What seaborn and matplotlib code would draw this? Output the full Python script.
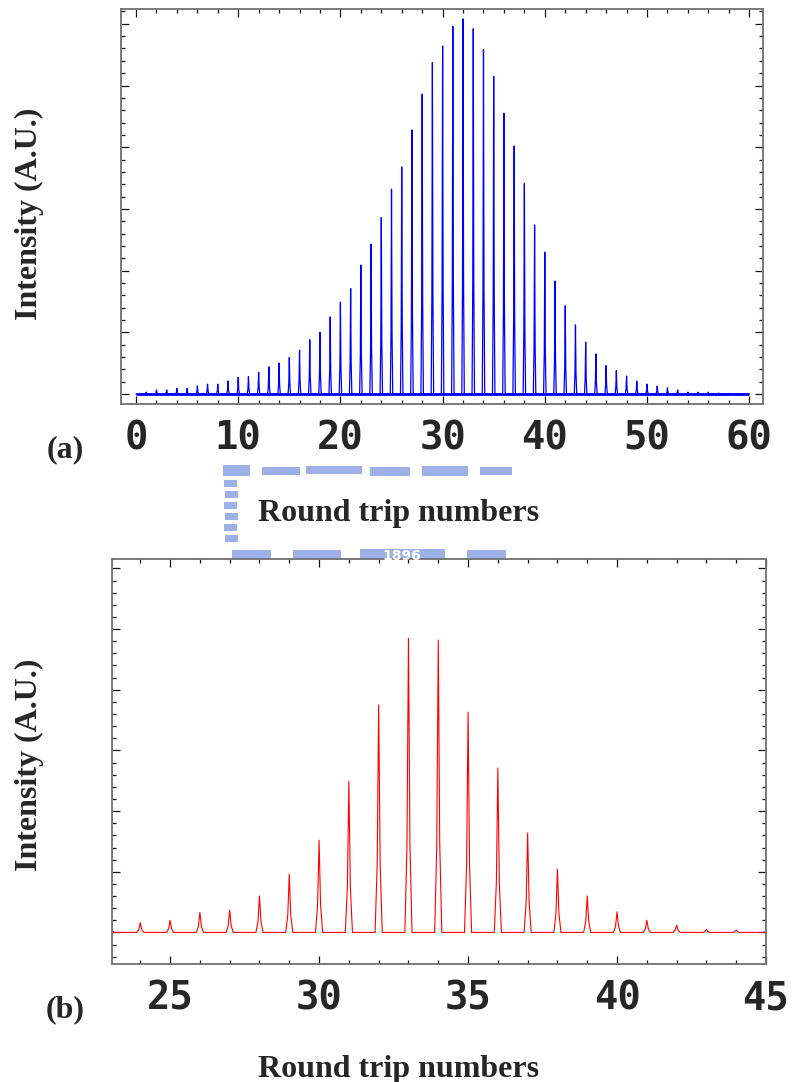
import numpy as np
import pandas as pd
import matplotlib
matplotlib.use("Agg")
import matplotlib.pyplot as plt
import seaborn as sns
from matplotlib.patches import Rectangle
from matplotlib.ticker import MultipleLocator

# ---------------------------------------------------------------- data
# (a) full build-up: peak intensity of each round trip (major tick = 1 unit)
a_trips = list(range(1, 59))
a_peaks = [0.03, 0.065, 0.065, 0.09, 0.09, 0.13, 0.16, 0.16, 0.21, 0.27,
           0.28, 0.35, 0.44, 0.50, 0.59, 0.71, 0.88, 1.00, 1.25, 1.49,
           1.71, 2.09, 2.43, 2.86, 3.32, 3.68, 4.28, 4.86, 5.37, 5.64,
           5.96, 6.08, 5.92, 5.58, 5.15, 4.55, 4.02, 3.41, 2.74, 2.30,
           1.83, 1.43, 1.12, 0.84, 0.65, 0.46, 0.38, 0.29, 0.21, 0.16,
           0.13, 0.10, 0.065, 0.03, 0.03, 0.03, 0.015, 0.01]
a_span = (0, 60)

# (b) zoom on round trips 23-45
b_trips = list(range(23, 46))
b_peaks = [0.12, 0.16, 0.20, 0.33, 0.37, 0.60, 0.96, 1.52, 2.49, 3.75,
           4.85, 4.82, 3.63, 2.71, 1.64, 1.04, 0.60, 0.34, 0.20, 0.12,
           0.05, 0.04, 0.02]
b_span = (23, 45)

# pulse profile sampled around each round trip (offset, fraction of peak)
pulse_dx = [-0.12, -0.05, 0.0, 0.05, 0.12]
pulse_frac = [0.0, 0.3, 1.0, 0.3, 0.0]

a_xticks = [0, 10, 20, 30, 40, 50, 60]
b_xticks = [25, 30, 35, 40, 45]


def pulse_train(trips, peaks, span):
    xs, ys = [span[0]], [0.0]
    for n, h in zip(trips, peaks):
        for dx, f in zip(pulse_dx, pulse_frac):
            xs.append(n + dx)
            ys.append(f * h)
    xs.append(span[1])
    ys.append(0.0)
    return pd.DataFrame({"round_trip": xs, "intensity": ys})


# ---------------------------------------------------------------- figure
W, H = 792, 1082
sns.set_style("white")
plt.rcParams["font.family"] = ["DejaVu Sans"]

fig = plt.figure(figsize=(W / 100, H / 100), dpi=100)


def px_axes(x0, y0, x1, y1):
    return fig.add_axes([x0 / W, 1 - y1 / H, (x1 - x0) / W, (y1 - y0) / H])


ax_a = px_axes(121, 9.3, 763, 404)
ax_b = px_axes(112, 559.3, 766, 964)

# faint university emblem between the two panels
wm_color = "#9db0e8"
wm_boxes = [
    # top band
    (223, 465, 250, 476), (262, 467, 300, 475), (306, 466, 362, 474),
    (370, 467, 410, 476), (422, 466, 468, 476), (480, 467, 512, 475),
    # left band (broken)
    (224, 480, 237, 487), (225, 491, 238, 498), (224, 502, 237, 509),
    (225, 513, 238, 520), (224, 524, 237, 531), (225, 535, 238, 542),
    # bottom band
    (232, 550, 271, 559), (293, 550, 341, 559), (360, 549, 445, 559),
    (467, 550, 506, 559),
]
for x0, y0, x1, y1 in wm_boxes:
    fig.patches.append(Rectangle((x0 / W, 1 - y1 / H), (x1 - x0) / W, (y1 - y0) / H,
                                 transform=fig.transFigure, color=wm_color,
                                 lw=0, zorder=-1))
fig.text(402 / W, 1 - 556 / H, "1896", color="white", fontsize=10,
         fontweight="bold", ha="center", va="center", zorder=0)

df_a = pulse_train(a_trips, a_peaks, a_span)
df_b = pulse_train(b_trips, b_peaks, b_span)

sns.lineplot(data=df_a, x="round_trip", y="intensity", ax=ax_a, color="#0000ff",
             lw=0.9, estimator=None, sort=True)
ax_a.hlines(0, a_span[0], a_span[1], color="#0000ff", lw=2.0)
sns.lineplot(data=df_b, x="round_trip", y="intensity", ax=ax_b, color="#ff0000",
             lw=0.8, estimator=None, sort=True)

ax_a.set_xlim(-1.47, 61.35)
ax_a.set_ylim(-0.162, 6.235)
ax_b.set_xlim(23.05, 45.0)
ax_b.set_ylim(-0.52, 6.15)

tick_font = dict(family="DejaVu Sans Mono", weight="bold", size=28)
for ax, ticks, minor in ((ax_a, a_xticks, 2), (ax_b, b_xticks, 1)):
    ax.set_xticks(ticks)
    ax.set_xticklabels([str(t) for t in ticks], fontdict=tick_font)
    ax.xaxis.set_minor_locator(MultipleLocator(minor))
    ax.yaxis.set_major_locator(MultipleLocator(1))
    ax.yaxis.set_minor_locator(MultipleLocator(0.2))
    ax.set_yticklabels([])
    ax.tick_params(which="both", direction="in", top=True, right=True,
                   left=True, bottom=True, color="#111111", width=0.9)
    ax.tick_params(which="major", length=5.5)
    ax.tick_params(which="minor", length=3.2)
    ax.tick_params(axis="x", which="major", pad=11)
    ax.set_xlabel("")
    ax.set_ylabel("")
    for s in ax.spines.values():
        s.set_color("#707070")
        s.set_linewidth(1.3)

label_font = dict(family="Liberation Serif", weight="bold", size=23)
fig.text(399 / W, 1 - 521 / H, "Round trip numbers", ha="center", va="baseline",
         **label_font)
fig.text(399 / W, 1 - 1077 / H, "Round trip numbers", ha="center", va="baseline",
         **label_font)
fig.text(29 / W, 1 - 214 / H, "Intensity (A.U.)", rotation=90, ha="center",
         va="center", **label_font)
fig.text(29 / W, 1 - 765 / H, "Intensity (A.U.)", rotation=90, ha="center",
         va="center", **label_font)
fig.text(65 / W, 1 - 450 / H, "(a)", ha="center", va="center", **label_font)
fig.text(65 / W, 1 - 1010 / H, "(b)", ha="center", va="center", **label_font)

fig.savefig("out.png", dpi=100)
